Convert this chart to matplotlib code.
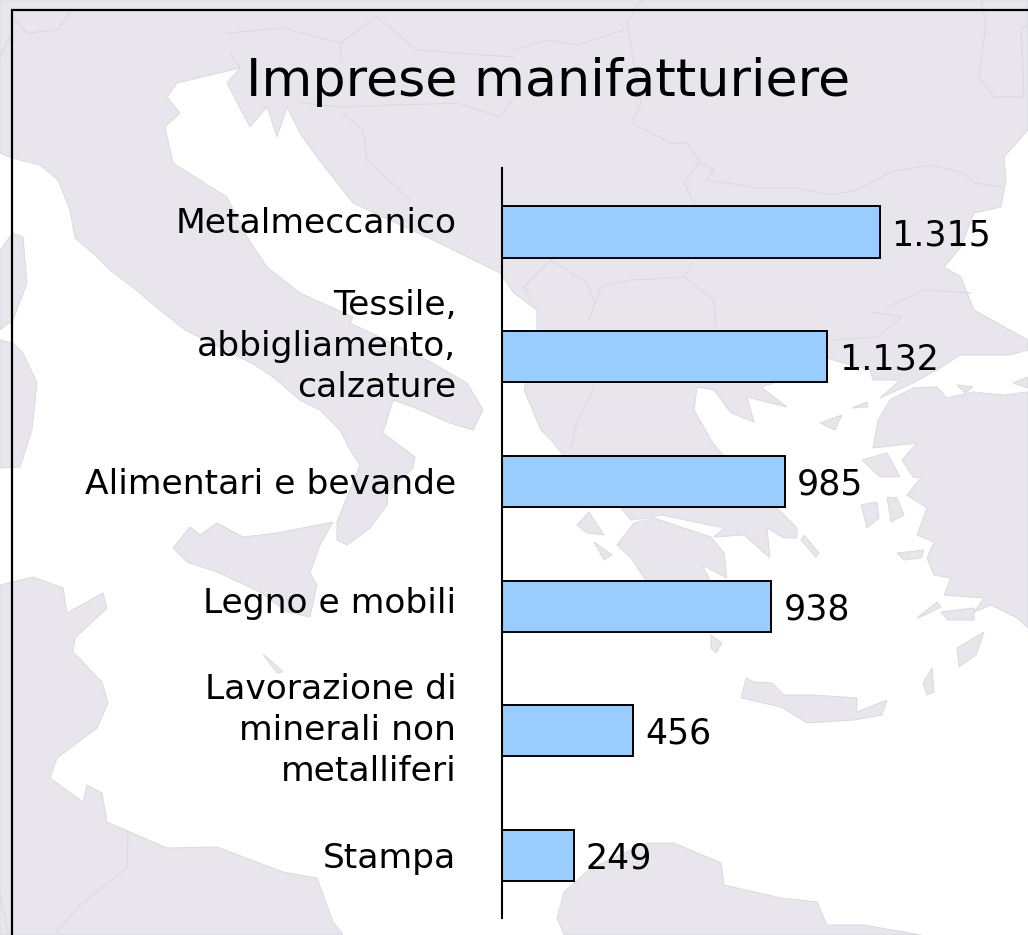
import matplotlib.pyplot as plt
from matplotlib.patches import Polygon
from matplotlib.transforms import ScaledTranslation

plt.rcParams['font.family'] = ['DejaVu Sans']

title = 'Imprese manifatturiere'
categories = ['Metalmeccanico', 'Tessile,\nabbigliamento,\ncalzature', 'Alimentari e bevande',
              'Legno e mobili', 'Lavorazione di\nminerali non\nmetalliferi', 'Stampa']
values = [1315, 1132, 985, 938, 456, 249]
value_labels = ['1.315', '1.132', '985', '938', '456', '249']

# background map, traced in image pixels
europe = [(0, 0), (1028, 0), (1028, 130), (1004, 157), (1006, 180), (1001, 207), (974, 213), (961, 247),
          (944, 267), (961, 277), (974, 310), (1028, 340), (1028, 350), (1010, 355), (960, 355), (937, 370),
          (913, 383), (880, 398), (900, 380), (873, 380), (870, 370), (843, 363), (827, 358), (800, 375),
          (761, 387), (787, 407), (770, 403), (747, 397), (754, 422), (731, 413), (714, 390), (697, 387),
          (694, 410), (711, 440), (721, 453), (777, 508), (797, 528), (797, 538), (784, 538), (767, 528),
          (770, 558), (744, 535), (714, 537), (724, 528), (661, 515), (647, 518), (631, 520), (621, 508),
          (575, 470), (551, 440), (541, 430), (524, 390), (537, 330), (537, 310), (514, 293), (500, 273),
          (433, 240), (383, 217), (353, 203), (317, 157), (300, 133), (287, 107), (277, 137), (267, 107),
          (250, 127), (227, 83), (240, 68), (177, 83), (167, 97), (180, 113), (165, 127), (173, 163),
          (227, 197), (247, 237), (267, 267), (300, 293), (353, 317), (350, 323), (427, 360), (467, 383),
          (483, 410), (473, 430), (450, 423), (413, 407), (393, 400), (383, 433), (415, 457), (413, 468),
          (388, 492), (387, 505), (370, 528), (347, 545), (337, 540), (337, 522), (360, 465), (350, 450),
          (340, 430), (320, 410), (300, 400), (273, 377), (255, 365), (225, 350), (185, 330), (160, 310),
          (130, 285), (110, 270), (95, 255), (75, 238), (70, 210), (58, 180), (40, 165), (12, 158), (0, 153)]
turkey = [(1028, 392), (1003, 395), (973, 392), (947, 398), (937, 387), (913, 388), (890, 400), (878, 420),
          (873, 448), (917, 443), (902, 460), (913, 477), (921, 478), (907, 495), (927, 508), (917, 535),
          (934, 542), (927, 558), (934, 575), (951, 578), (944, 595), (984, 598), (974, 612), (991, 605),
          (1017, 618), (1028, 628)]
tunisia = [(0, 585), (33, 577), (63, 588), (67, 613), (103, 593), (107, 608), (75, 638), (73, 652), (102, 682),
           (108, 703), (97, 728), (57, 758), (50, 778), (83, 802), (87, 785), (102, 793), (107, 822), (167, 848),
           (217, 847), (283, 872), (317, 878), (333, 922), (343, 935), (0, 935)]
libya = [(564, 935), (557, 918), (564, 892), (591, 868), (647, 843), (674, 843), (721, 863), (724, 885),
         (781, 898), (817, 902), (827, 925), (864, 925), (921, 935)]
islands = [
    [(173, 548), (190, 527), (200, 535), (217, 523), (243, 537), (277, 533), (333, 522), (320, 545), (310, 573),
     (317, 585), (310, 617), (287, 612), (260, 592), (217, 572), (187, 562)],
    [(0, 250), (13, 233), (23, 237), (27, 283), (13, 320), (0, 330)],
    [(0, 340), (13, 343), (23, 353), (37, 383), (32, 430), (20, 467), (0, 468)],
    [(617, 545), (634, 523), (654, 518), (711, 537), (724, 553), (727, 578), (702, 565), (711, 582), (647, 582),
     (631, 558)],
    [(741, 698), (746, 678), (754, 682), (772, 683), (784, 695), (814, 695), (857, 698), (857, 712), (887, 700),
     (882, 715), (854, 720), (807, 723), (781, 707)],
    [(984, 632), (976, 655), (959, 667), (957, 648)],
    [(932, 668), (934, 692), (927, 695), (923, 683)],
    [(917, 618), (937, 602), (941, 607), (925, 615)],
    [(941, 612), (974, 608), (974, 620), (948, 620)],
    [(861, 505), (877, 502), (879, 518), (867, 528)],
    [(887, 497), (897, 498), (904, 515), (891, 522)],
    [(897, 553), (924, 550), (921, 558), (904, 560)],
    [(804, 535), (819, 553), (816, 557), (801, 540)],
    [(589, 512), (604, 535), (587, 533), (577, 525)],
    [(594, 542), (612, 555), (604, 560)],
    [(711, 635), (722, 643), (716, 653), (711, 648)],
    [(862, 460), (887, 453), (900, 477), (880, 477)],
    [(820, 423), (842, 415), (835, 430)],
    [(852, 408), (867, 402), (868, 407)],
    [(957, 385), (973, 387), (965, 393)],
    [(1013, 383), (1028, 377), (1028, 388)],
    [(263, 654), (270, 660), (283, 672), (277, 673)],
]
borders = [
    [(706, 180), (727, 183), (757, 188), (797, 188), (831, 195), (857, 190), (891, 172), (931, 165), (964, 173),
     (974, 183), (1001, 187)],
    [(706, 180), (714, 170), (700, 162), (687, 143), (671, 143), (632, 123), (641, 103), (627, 23), (641, 0)],
    [(700, 162), (684, 183), (694, 203)],
    [(692, 263), (684, 277), (631, 280), (601, 287), (589, 320)],
    [(684, 277), (714, 300), (716, 330)],
    [(887, 307), (924, 290), (971, 293)],
    [(872, 312), (902, 317), (877, 337), (831, 340)],
    [(594, 387), (577, 423), (571, 447)],
    [(514, 50), (547, 40), (577, 45), (624, 30)],
    [(227, 33), (283, 28), (340, 43), (377, 17), (417, 50), (514, 57)],
    [(230, 53), (240, 68)],
    [(340, 43), (340, 60)],
    [(343, 113), (363, 130), (367, 160), (410, 200)],
    [(300, 103), (343, 107), (457, 103), (500, 117), (514, 97)],
    [(981, 0), (986, 23), (979, 77), (994, 97), (1024, 97), (1021, 30), (1028, 23)],
    [(128, 832), (127, 868), (80, 905), (57, 932)],
    [(0, 895), (8, 932)],
    [(13, 17), (27, 33), (57, 30), (70, 13)],
    [(0, 57), (10, 37)],
    [(551, 260), (524, 287), (531, 300)],
    [(551, 260), (587, 283), (594, 300)],
]

land_color = '#E8E6EC'
border_color = '#DBD9E1'
bar_color = '#99CCFF'
# the labels do not sit exactly on the bar centres, shift in pixels (up is positive)
label_shift = [12, 18, 0, 6, 8, 1]

fig = plt.figure(figsize=(10.28, 9.35), dpi=100, facecolor='white')

# full figure axes in pixels, for the map and the frame
bg = fig.add_axes([0, 0, 1, 1], zorder=0)
bg.set_xlim(0, 1028)
bg.set_ylim(935, 0)
bg.axis('off')
for shape in [europe, turkey, tunisia, libya] + islands:
    bg.add_patch(Polygon(shape, closed=True, facecolor=land_color, edgecolor=border_color, linewidth=0.7))
for line in borders:
    bg.plot([p[0] for p in line], [p[1] for p in line], color=border_color, linewidth=0.8)
bg.plot([12, 12, 1028], [935, 10, 10], color='black', linewidth=1.6, solid_joinstyle='miter')
bg.text(548, 96, title, fontsize=37.6, ha='center', va='baseline', color='black')

ax = fig.add_axes([502 / 1028, (935 - 918) / 935, 526 / 1028, 750 / 935], zorder=1)
ax.patch.set_alpha(0)
positions = list(range(len(values)))
ax.barh(positions, values, height=0.41, color=bar_color, edgecolor='black', linewidth=1.4)
ax.set_xlim(0, 526 / 0.2873)
ax.set_ylim(5.501, -0.513)
for pos, val, lab in zip(positions, values, value_labels):
    ax.annotate(lab, (val, pos), xytext=(8.5, -2.2), textcoords='offset points', fontsize=25,
                va='center', ha='left', color='black')
ax.set_yticks(positions)
ax.tick_params(axis='y', length=0, pad=33)
ax.set_yticklabels(categories, fontsize=24.8, color='black', ma='right', linespacing=1.31)
for tick, shift in zip(ax.yaxis.get_major_ticks(), label_shift):
    tick.label1.set_transform(tick.label1.get_transform() + ScaledTranslation(0, shift / 100, fig.dpi_scale_trans))
ax.set_xticks([])
for side in ['top', 'right', 'bottom']:
    ax.spines[side].set_visible(False)
ax.spines['left'].set_linewidth(1.5)

plt.savefig('out.png', dpi=100)
plt.close('all')
